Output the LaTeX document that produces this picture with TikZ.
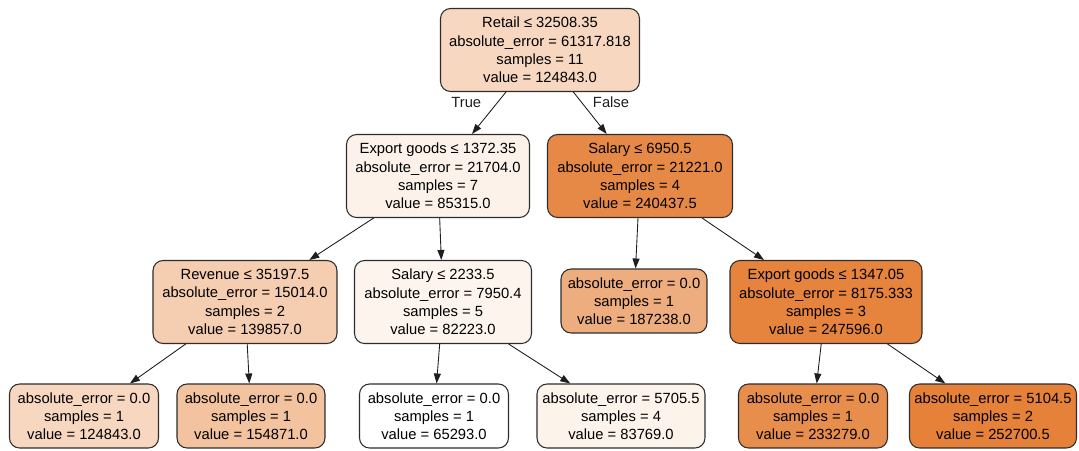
\documentclass[tikz,border=0pt]{standalone}
\usepackage{fontspec}
\setmainfont{Liberation Sans}
\definecolor{boxline}{RGB}{45, 45, 45}
\definecolor{edgeline}{RGB}{30, 30, 30}
\definecolor{fillroot}{RGB}{247, 215, 192}
\definecolor{fillexpa}{RGB}{252, 242, 234}
\definecolor{fillsala}{RGB}{231, 137, 70}
\definecolor{fillreve}{RGB}{245, 205, 176}
\definecolor{fillsalb}{RGB}{253, 244, 237}
\definecolor{fillleafa}{RGB}{238, 173, 126}
\definecolor{fillexpb}{RGB}{230, 132, 62}
\definecolor{fillleafb}{RGB}{243, 195, 160}
\definecolor{fillleafc}{RGB}{252, 243, 235}
\definecolor{fillleafd}{RGB}{232, 142, 77}
\definecolor{fillleafe}{RGB}{229, 129, 57}
\usepackage{tikz}
\usetikzlibrary{arrows.meta}

\begin{document}
\begin{tikzpicture}[x=0.02cm, y=-0.02cm,
    split/.style={draw=boxline, line width=0.6pt, rounded corners=0.2cm, align=center, inner sep=0pt, font=\fontsize{8.4}{10.4}\selectfont, minimum height=1.66cm},
    leaf/.style={split, minimum height=1.28cm},
    edge/.style={-{Triangle[length=0.2cm, width=0.14cm]}, line width=0.5pt, edgeline},
    edgelabel/.style={font=\fontsize{8.4}{10.4}\selectfont}]
    \useasboundingbox (0,0) rectangle (1079,450);
    \node[split, fill=fillroot, minimum width=3.98cm] (root) at (540,50) {Retail ≤ 32508.35\\absolute\_error = 61317.818\\samples = 11\\value = 124843.0};
    \node[split, fill=fillexpa, minimum width=3.66cm] (expa) at (438,176) {Export goods ≤ 1372.35\\absolute\_error = 21704.0\\samples = 7\\value = 85315.0};
    \node[split, fill=fillsala, minimum width=3.7cm] (sala) at (640,176) {Salary ≤ 6950.5\\absolute\_error = 21221.0\\samples = 4\\value = 240437.5};
    \node[split, fill=fillreve, minimum width=3.68cm] (reve) at (245,302) {Revenue ≤ 35197.5\\absolute\_error = 15014.0\\samples = 2\\value = 139857.0};
    \node[split, fill=fillsalb, minimum width=3.54cm] (salb) at (443,302) {Salary ≤ 2233.5\\absolute\_error = 7950.4\\samples = 5\\value = 82223.0};
    \node[leaf, fill=fillleafa, minimum width=2.92cm] (leafa) at (634,301) {absolute\_error = 0.0\\samples = 1\\value = 187238.0};
    \node[split, fill=fillexpb, minimum width=3.84cm] (expb) at (826,302) {Export goods ≤ 1347.05\\absolute\_error = 8175.333\\samples = 3\\value = 247596.0};
    \node[leaf, fill=fillroot, minimum width=2.98cm] (leafb) at (84,416) {absolute\_error = 0.0\\samples = 1\\value = 124843.0};
    \node[leaf, fill=fillleafb, minimum width=2.96cm] (leafc) at (251,416) {absolute\_error = 0.0\\samples = 1\\value = 154871.0};
    \node[leaf, fill=white, minimum width=2.98cm] (leafd) at (434,416) {absolute\_error = 0.0\\samples = 1\\value = 65293.0};
    \node[leaf, fill=fillleafc, minimum width=3.36cm] (leafe) at (621,416) {absolute\_error = 5705.5\\samples = 4\\value = 83769.0};
    \node[leaf, fill=fillleafd, minimum width=2.98cm] (leaff) at (813,416) {absolute\_error = 0.0\\samples = 1\\value = 233279.0};
    \node[leaf, fill=fillleafe, minimum width=3.34cm] (leafg) at (993,416) {absolute\_error = 5104.5\\samples = 2\\value = 252700.5};
    \draw[edge] (root) -- node[edgelabel, pos=0.25, left=0.2cm] {True} (expa);
    \draw[edge] (root) -- node[edgelabel, pos=0.25, right=0.1cm] {False} (sala);
    \draw[edge] (expa) -- (reve);
    \draw[edge] (expa) -- (salb);
    \draw[edge] (sala) -- (leafa);
    \draw[edge] (sala) -- (expb);
    \draw[edge] (reve) -- (leafb);
    \draw[edge] (reve) -- (leafc);
    \draw[edge] (salb) -- (leafd);
    \draw[edge] (salb) -- (leafe);
    \draw[edge] (expb) -- (leaff);
    \draw[edge] (expb) -- (leafg);
\end{tikzpicture}
\end{document}
